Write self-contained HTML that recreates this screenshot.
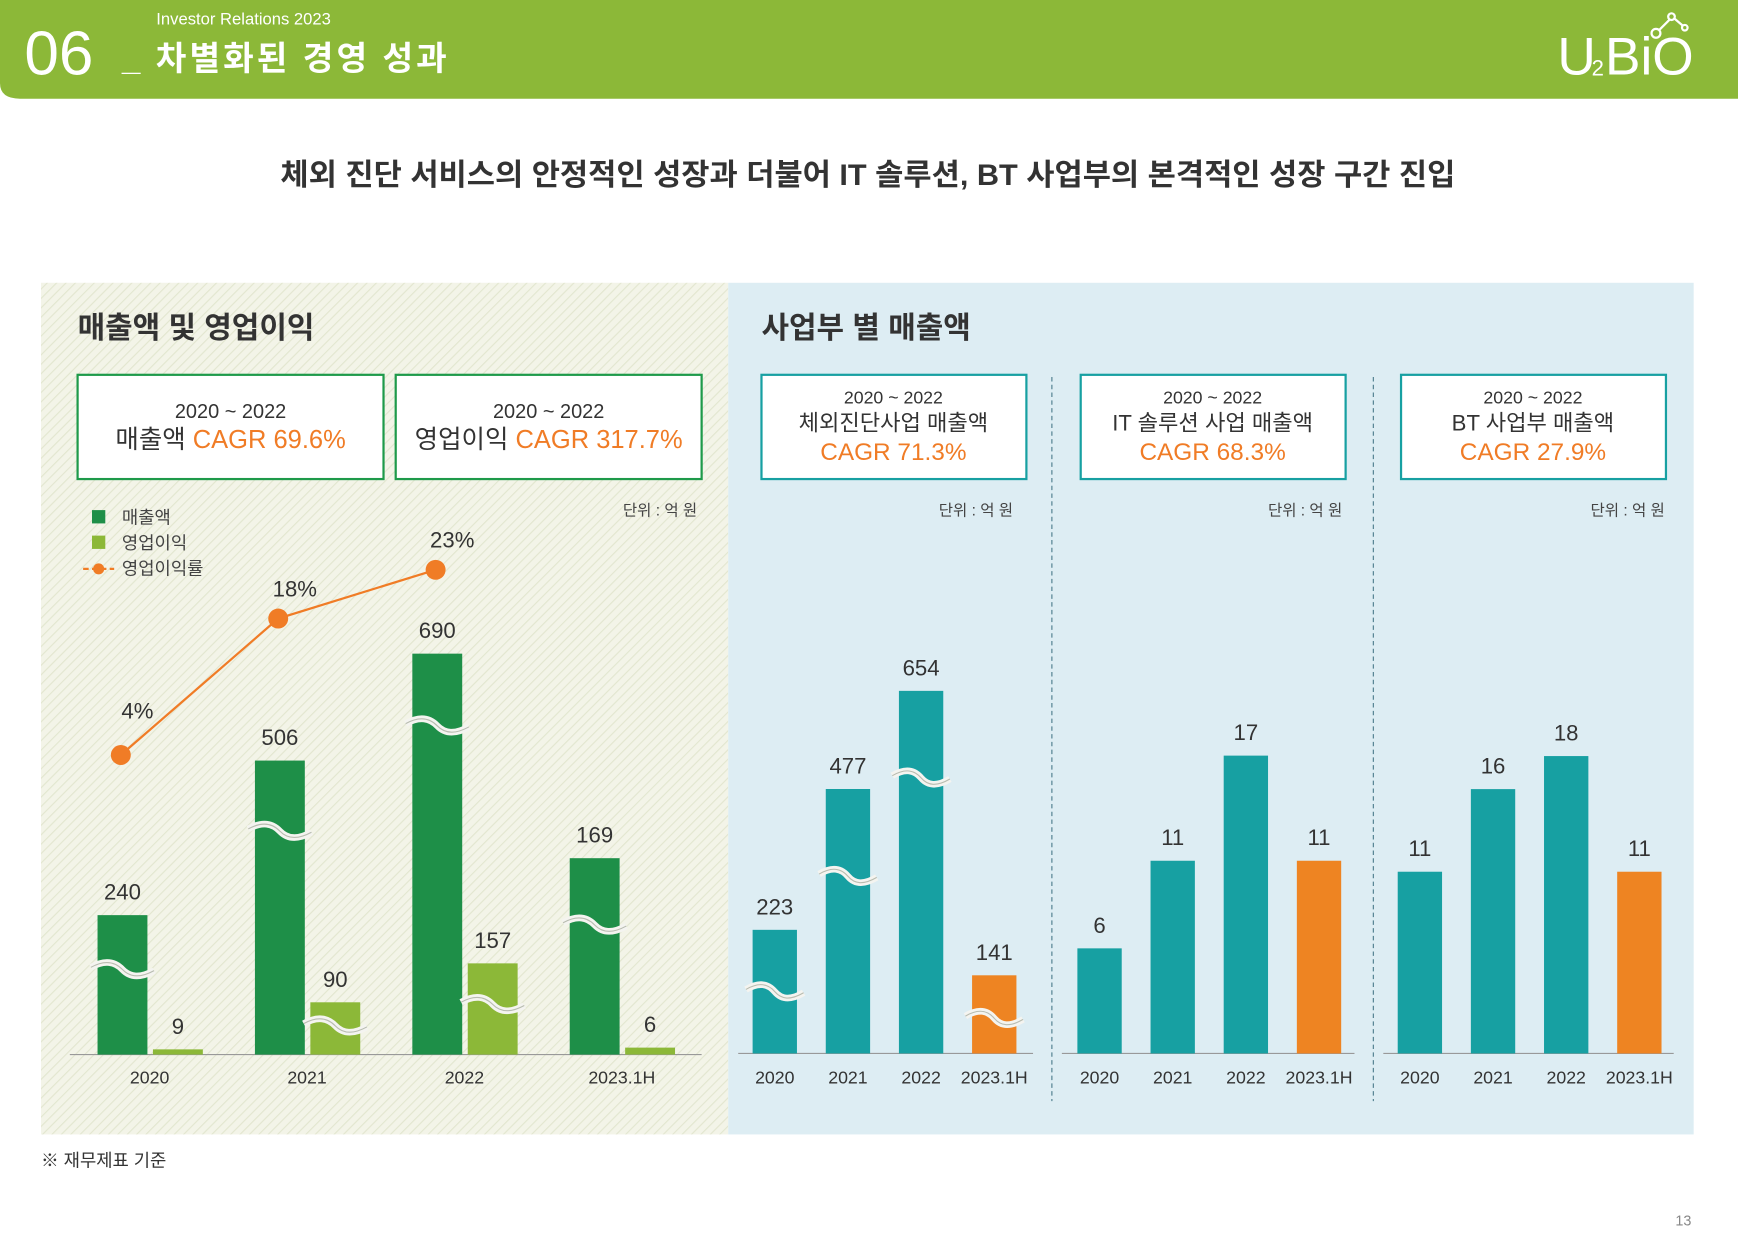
<!DOCTYPE html>
<html><head><meta charset="utf-8"><style>
html,body{margin:0;padding:0;background:#fff;width:1738px;height:1242px;overflow:hidden}
svg{display:block}
text{font-family:"Liberation Sans","Noto Sans CJK KR",sans-serif}
</style></head><body>
<svg id="root" width="1738" height="1242" viewBox="0 0 1568 1120" preserveAspectRatio="none">
<defs>
<pattern id="hatch" width="6" height="6" patternUnits="userSpaceOnUse" patternTransform="rotate(45)">
<rect width="6" height="6" fill="#f3f4e8"/><line x1="0" y1="0" x2="0" y2="6" stroke="#e2e6cf" stroke-width="2"/>
</pattern>
</defs>
<path d="M0 0H1568V89H18Q0 89 0 75Z" fill="#8cb838"/>
<text x="22" y="67" font-size="56" fill="#fff" font-weight="300">06</text>
<text x="141" y="22" font-size="15" fill="#fff">Investor Relations 2023</text>
<text x="110" y="63" font-size="30" fill="#fff" font-weight="bold" textLength="293">_ 차별화된 경영 성과</text>
<g>
<text x="1405" y="67" font-size="48" fill="#fff" font-weight="300" letter-spacing="-2">U</text>
<text x="1436" y="68" font-size="20" fill="#fff">2</text>
<text x="1448" y="67" font-size="48" fill="#fff" font-weight="300">BiO</text>
<circle cx="1494" cy="30" r="4" fill="none" stroke="#fff" stroke-width="2"/><circle cx="1508" cy="15" r="3" fill="none" stroke="#fff" stroke-width="2"/><circle cx="1520" cy="25" r="2.5" fill="none" stroke="#fff" stroke-width="2"/>
<path d="M1497 27L1506 18M1511 17L1518 23" stroke="#fff" stroke-width="2"/>
</g>
<text x="253" y="167" font-size="27" fill="#333" font-weight="bold" textLength="1060" lengthAdjust="spacingAndGlyphs">체외 진단 서비스의 안정적인 성장과 더불어 IT 솔루션, BT 사업부의 본격적인 성장 구간 진입</text>
<rect x="37" y="255" width="620" height="768" fill="url(#hatch)"/>
<rect x="657" y="255" width="871" height="768" fill="#ddedf3"/>
<text x="70" y="305" font-size="27" fill="#333" font-weight="bold">매출액 및 영업이익</text>
<text x="687" y="305" font-size="27" fill="#333" font-weight="bold">사업부 별 매출액</text>

<g><rect x="70" y="338" width="276" height="94" fill="#fff" stroke="#1e9a4a" stroke-width="2"/>
<text x="208" y="377" font-size="18" fill="#333" text-anchor="middle">2020 ~ 2022</text>
<text x="208" y="404" font-size="23" fill="#333" text-anchor="middle">매출액 <tspan fill="#f07c26">CAGR 69.6%</tspan></text></g>
<g><rect x="357" y="338" width="276" height="94" fill="#fff" stroke="#1e9a4a" stroke-width="2"/>
<text x="495" y="377" font-size="18" fill="#333" text-anchor="middle">2020 ~ 2022</text>
<text x="495" y="404" font-size="23" fill="#333" text-anchor="middle">영업이익 <tspan fill="#f07c26">CAGR 317.7%</tspan></text></g>

<g><rect x="687" y="338" width="239" height="94" fill="#fff" stroke="#17a0a2" stroke-width="2"/>
<text x="806" y="364" font-size="16" fill="#333" text-anchor="middle">2020 ~ 2022</text>
<text x="806" y="388" font-size="20" fill="#333" text-anchor="middle">체외진단사업 매출액</text>
<text x="806" y="415" font-size="22" fill="#f07c26" text-anchor="middle">CAGR 71.3%</text></g>
<g><rect x="975" y="338" width="239" height="94" fill="#fff" stroke="#17a0a2" stroke-width="2"/>
<text x="1094" y="364" font-size="16" fill="#333" text-anchor="middle">2020 ~ 2022</text>
<text x="1094" y="388" font-size="20" fill="#333" text-anchor="middle">IT 솔루션 사업 매출액</text>
<text x="1094" y="415" font-size="22" fill="#f07c26" text-anchor="middle">CAGR 68.3%</text></g>
<g><rect x="1264" y="338" width="239" height="94" fill="#fff" stroke="#17a0a2" stroke-width="2"/>
<text x="1383" y="364" font-size="16" fill="#333" text-anchor="middle">2020 ~ 2022</text>
<text x="1383" y="388" font-size="20" fill="#333" text-anchor="middle">BT 사업부 매출액</text>
<text x="1383" y="415" font-size="22" fill="#f07c26" text-anchor="middle">CAGR 27.9%</text></g>

<line x1="949" y1="340" x2="949" y2="993" stroke="#4a7a8a" stroke-dasharray="4 3"/>
<line x1="1239" y1="340" x2="1239" y2="993" stroke="#4a7a8a" stroke-dasharray="4 3"/>

<text x="629" y="465" font-size="14" fill="#444" text-anchor="end">단위 : 억 원</text>
<text x="914" y="465" font-size="14" fill="#444" text-anchor="end">단위 : 억 원</text>
<text x="1211" y="465" font-size="14" fill="#444" text-anchor="end">단위 : 억 원</text>
<text x="1502" y="465" font-size="14" fill="#444" text-anchor="end">단위 : 억 원</text>

<g>
<rect x="83" y="460" width="12" height="12" fill="#1e8f48"/><text x="110" y="472" font-size="16" fill="#444">매출액</text>
<rect x="83" y="483" width="12" height="12" fill="#8cb838"/><text x="110" y="495" font-size="16" fill="#444">영업이익</text>
<line x1="75" y1="513" x2="103" y2="513" stroke="#f07c26" stroke-width="2" stroke-dasharray="5 3"/><circle cx="89" cy="513" r="5" fill="#f07c26"/><text x="110" y="518" font-size="16" fill="#444">영업이익률</text>
</g>
<g id="charts"></g>
<text x="37" y="1052" font-size="16" fill="#333">※ 재무제표 기준</text>
<text x="1526" y="1105" font-size="13" fill="#888" text-anchor="end">13</text>
</svg>
<script>
const categories = ["2020","2021","2022","2023.1H"];
const revenue = [240,506,690,169];
const opProfit = [9,90,157,6];
const opMargin = [4,18,23];
const ivdSales = [223,477,654,141];
const itSales = [6,11,17,11];
const btSales = [11,16,18,11];

const NS="http://www.w3.org/2000/svg";
const G=document.getElementById('charts');
function mk(tag,attrs,parent){const e=document.createElementNS(NS,tag);for(const k in attrs)e.setAttribute(k,attrs[k]);(parent||G).appendChild(e);return e;}
function annual(v,i){return categories[i].indexOf('H')>=0?v*2:v;}
function wave(x,w,y){
  const d=`M${x-6} ${y-2} C${x+w*0.15} ${y-9},${x+w*0.35} ${y-7},${x+w/2} ${y} S${x+w*0.85} ${y+8},${x+w+6} ${y+1}`;
  const p=mk('path',{d:d,fill:'none',stroke:'#f4f4f0','stroke-width':6});
  
  
  const q=mk('path',{d:d,fill:'none',stroke:'#b8bcb0','stroke-width':1});
  
  
}
const revBreakFrac=[0.61,0.76,0.82,0.66];

// Left chart
const baseL=951, kL=0.524;
const yL=v=>baseL-v*kL;
const xRev=i=>88+i*142, barW=45;
const ax=mk('line',{x1:63,y1:baseL,x2:633,y2:baseL,stroke:'#999','stroke-width':1});


revenue.forEach((v,i)=>{
  const top=yL(annual(v,i));
  const r=mk('rect',{x:xRev(i),y:top,width:barW,height:baseL-top,fill:'#1e8f48'});
  
  
  wave(xRev(i),barW,baseL-(baseL-top)*revBreakFrac[i]);
  const t=mk('text',{x:xRev(i)+barW/2,y:top-14,'font-size':20,fill:'#333','text-anchor':'middle'});t.textContent=v;
  
  
  const c=mk('text',{x:xRev(i)+47,y:977,'font-size':16,fill:'#333','text-anchor':'middle'});c.textContent=categories[i];
  
  
});
opProfit.forEach((v,i)=>{
  const x=xRev(i)+50, top=Math.min(yL(annual(v,i)),baseL-4);
  const r=mk('rect',{x:x,y:top,width:barW,height:baseL-top,fill:'#8cb838'});
  
  
  if(baseL-top>15) wave(x,barW,baseL-(baseL-top)*0.55);
  const t=mk('text',{x:x+barW/2,y:top-14,'font-size':20,fill:'#333','text-anchor':'middle'});t.textContent=v;
  
  
});
const yM=v=>716-v*8.79;
const pts=opMargin.map((v,i)=>[xRev(i)+21,yM(v)]);
const ln=mk('polyline',{points:pts.map(p=>p.join(',')).join(' '),fill:'none',stroke:'#f07c26','stroke-width':2});


opMargin.forEach((v,i)=>{
  const c=mk('circle',{cx:pts[i][0],cy:pts[i][1],r:9,fill:'#f07c26'});
  
  
  const t=mk('text',{x:pts[i][0]+15,y:pts[i][1]-(i===0?33:20),'font-size':20,fill:'#333','text-anchor':'middle'});t.textContent=v+'%';
  
  
});

// Right charts
const ivdBreakFrac=[0.5,0.67,0.76,0.45];
function segChart(name,vals,x0,x1,k,firstX,breaks){
  const base=950;
  const a=mk('line',{x1:x0,y1:base,x2:x1,y2:base,stroke:'#999','stroke-width':1});
  
  
  vals.forEach((v,i)=>{
    const x=firstX+i*66, w=40, top=base-v*k;
    const r=mk('rect',{x:x,y:top,width:w,height:base-top,fill:i===3?'#ee8422':'#17a0a2'});
    
    
    if(breaks) wave(x,w,base-(base-top)*breaks[i]);
    const t=mk('text',{x:x+w/2,y:top-14,'font-size':20,fill:'#333','text-anchor':'middle'});t.textContent=v;
    
    
    const c=mk('text',{x:x+w/2,y:977,'font-size':16,fill:'#333','text-anchor':'middle'});c.textContent=categories[i];
    
    
  });
}
segChart('ivd',ivdSales,666,932,0.5,679,ivdBreakFrac);
segChart('it',itSales,958,1222,15.8,972,null);
segChart('bt',btSales,1248,1510,14.9,1261,null);
</script>
</body></html>
